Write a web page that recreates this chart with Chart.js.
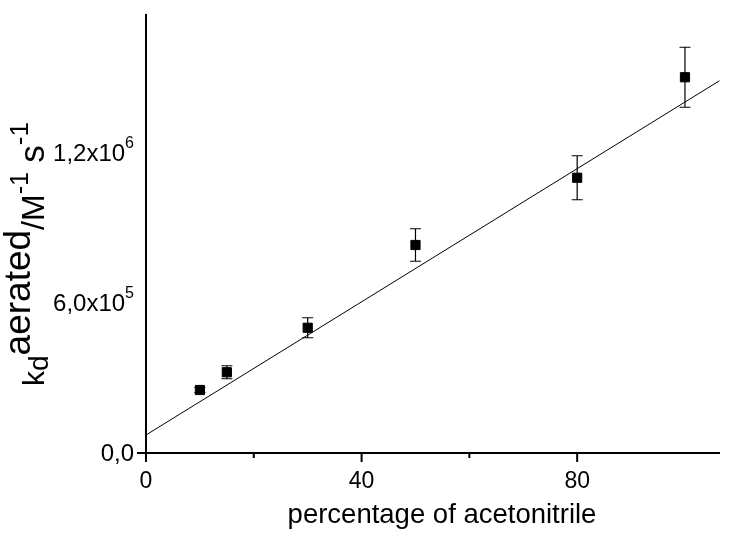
<!DOCTYPE html>
<html>
<head>
<meta charset="utf-8">
<script src="https://cdn.jsdelivr.net/npm/chart.js@4/dist/chart.umd.min.js"></script>
<style>
  html, body { margin: 0; padding: 0; background: #fff; }
  canvas { display: block; }
</style>
</head>
<body>
<canvas id="grafico" width="736" height="537"></canvas>
<script>
const percentAcetonitrile = [10, 15, 30, 50, 80, 100];
const kdAerated = [252000, 323000, 501000, 832000, 1101000, 1503000];
const kdError = [10000, 26000, 40000, 65000, 88000, 120000];

// linear fit, both ends
const fitX = [0, 106.4];
const fitY = [72000, 1489000];

const xTickLabels = ['0', '40', '80'];
const yTickValues = [0, 600000, 1200000];
const yTickLabels = ['0,0', '6,0x10^5', '1,2x10^6'];

const fonte = "'Liberation Sans', Arial, sans-serif";

// error bars, under the squares
const barrasErro = {
  id: 'barrasErro',
  beforeDatasetsDraw(chart) {
    const ctx = chart.ctx;
    const y = chart.scales.y;
    const meta = chart.getDatasetMeta(1);
    ctx.save();
    ctx.strokeStyle = '#000';
    ctx.lineWidth = 1.2;
    meta.data.forEach((p, i) => {
      const top = y.getPixelForValue(kdAerated[i] + kdError[i]);
      const bot = y.getPixelForValue(kdAerated[i] - kdError[i]);
      ctx.beginPath();
      ctx.moveTo(p.x, top); ctx.lineTo(p.x, bot);
      ctx.moveTo(p.x - 5.5, top); ctx.lineTo(p.x + 5.5, top);
      ctx.moveTo(p.x - 5.5, bot); ctx.lineTo(p.x + 5.5, bot);
      ctx.stroke();
    });
    ctx.restore();
  }
};

// axes, ticks, y labels with superscripts and both titles
const eixos = {
  id: 'eixos',
  afterDraw(chart) {
    const ctx = chart.ctx;
    const x = chart.scales.x;
    const y = chart.scales.y;
    const area = chart.chartArea;
    ctx.save();
    ctx.strokeStyle = '#000';
    ctx.fillStyle = '#000';
    ctx.lineWidth = 2;

    ctx.beginPath();
    ctx.moveTo(area.left, area.top);
    ctx.lineTo(area.left, area.bottom);
    ctx.lineTo(area.right, area.bottom);
    ctx.stroke();

    ctx.beginPath();
    x.ticks.forEach(t => {
      const px = x.getPixelForValue(t.value);
      const len = t.value % 40 === 0 ? 9 : 5;
      ctx.moveTo(px, area.bottom);
      ctx.lineTo(px, area.bottom + len);
    });
    y.ticks.forEach(t => {
      const py = y.getPixelForValue(t.value);
      const len = t.value % 600000 === 0 ? 9 : 5;
      ctx.moveTo(area.left, py);
      ctx.lineTo(area.left - len, py);
    });
    ctx.stroke();

    // y tick labels
    ctx.textBaseline = 'alphabetic';
    ctx.textAlign = 'left';
    yTickValues.forEach((v, i) => {
      const py = y.getPixelForValue(v);
      const partes = yTickLabels[i].split('^');
      ctx.font = '24px ' + fonte;
      const wBase = ctx.measureText(partes[0]).width;
      ctx.font = '16px ' + fonte;
      const wSup = partes[1] ? ctx.measureText(partes[1]).width : 0;
      const right = area.left - 12;
      const start = right - wBase - wSup;
      ctx.font = '24px ' + fonte;
      ctx.fillText(partes[0], start, py + 8);
      if (partes[1]) {
        ctx.font = '16px ' + fonte;
        ctx.fillText(partes[1], start + wBase, py - 5);
      }
    });

    // x title
    ctx.font = '27.5px ' + fonte;
    ctx.textAlign = 'center';
    ctx.fillText('percentage of acetonitrile', 442, 523);
    ctx.textAlign = 'left';

    // y title: k_d^aerated /M^-1 s^-1
    const pedacos = [
      ['k', 30, 0],
      ['d', 28, 4],
      ['aerated', 37, -14],
      ['/M', 32, 0],
      ['-1', 25, -16],
      [' ', 34, 0],
      ['s', 35, 0],
      ['-1', 26, -16]
    ];
    let total = 0;
    pedacos.forEach(p => {
      ctx.font = p[1] + 'px ' + fonte;
      total += ctx.measureText(p[0]).width;
    });
    ctx.translate(44, 254);
    ctx.rotate(-Math.PI / 2);
    let pos = -total / 2;
    pedacos.forEach(p => {
      ctx.font = p[1] + 'px ' + fonte;
      ctx.fillText(p[0], pos, p[2]);
      pos += ctx.measureText(p[0]).width;
    });
    ctx.restore();
  }
};

document.addEventListener('DOMContentLoaded', () => {
  const ctx = document.getElementById('grafico').getContext('2d');

  new Chart(ctx, {
    type: 'scatter',
    data: {
      datasets: [{
        label: 'fit',
        data: fitX.map((v, i) => ({ x: v, y: fitY[i] })),
        showLine: true,
        borderColor: '#000',
        borderWidth: 1,
        pointRadius: 0
      }, {
        label: 'kd aerated',
        data: percentAcetonitrile.map((v, i) => ({ x: v, y: kdAerated[i] })),
        pointStyle: 'rect',
        pointRadius: 6.5,
        backgroundColor: '#000',
        borderColor: '#000',
        borderWidth: 1
      }]
    },
    options: {
      responsive: false,
      animation: false,
      layout: { padding: { left: 0, right: 16, top: 14, bottom: 0 } },
      plugins: {
        legend: { display: false },
        tooltip: { enabled: false }
      },
      scales: {
        x: {
          type: 'linear',
          min: 0,
          max: 106.5,
          grid: { display: false },
          border: { display: false },
          afterBuildTicks: s => { s.ticks = s.ticks.filter(t => t.value % 20 === 0); },
          afterFit: s => { s.height = 84; },
          ticks: {
            stepSize: 20,
            padding: 7,
            color: '#000',
            font: { family: fonte, size: 23 },
            maxRotation: 0,
            autoSkip: false,
            callback: v => xTickLabels.includes(String(v)) ? String(v) : ''
          }
        },
        y: {
          min: 0,
          max: 1756000,
          grid: { display: false },
          border: { display: false },
          afterBuildTicks: s => { s.ticks = s.ticks.filter(t => t.value % 300000 === 0); },
          afterFit: s => { s.width = 146; },
          ticks: { stepSize: 300000, display: false }
        }
      }
    },
    plugins: [barrasErro, eixos]
  });
});
</script>
</body>
</html>
